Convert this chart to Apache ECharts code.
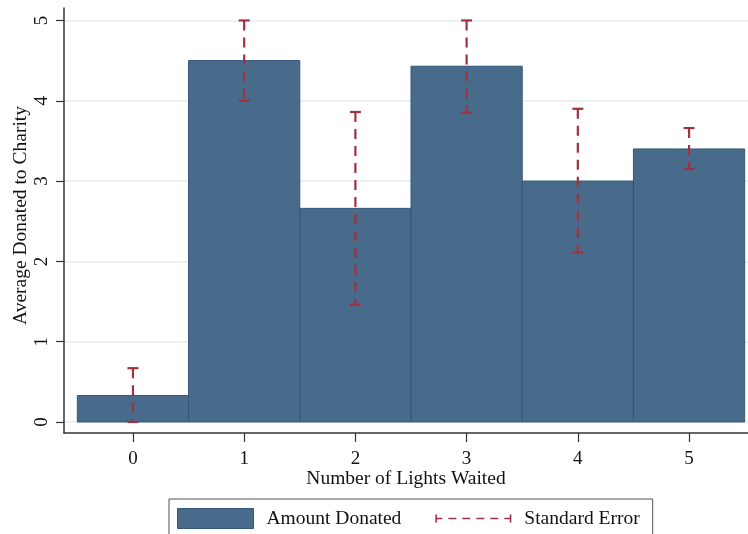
<!DOCTYPE html>
<html>
<head>
<meta charset="utf-8">
<script src="https://cdn.jsdelivr.net/npm/echarts@6/dist/echarts.min.js"></script>
<style>html,body{margin:0;padding:0;background:#fff}#c{width:748px;height:534px}</style>
</head>
<body>
<div id="c"></div>
<script>
const categories = [0, 1, 2, 3, 4, 5];
const amountDonated = [0.33, 4.5, 2.66, 4.43, 3.0, 3.40];
const seLower = [0, 4.0, 1.46, 3.85, 2.11, 3.15];
const seUpper = [0.67, 5.0, 3.86, 5.0, 3.90, 3.66];
const yTicks = [0, 1, 2, 3, 4, 5];

const FONT = "'Liberation Serif', 'Times New Roman', serif";
const BAR_FILL = '#486a8b';
const BAR_EDGE = '#34577c';
const ERR = '#a0323f';

const barData = categories.map((c, i) => [c, amountDonated[i]]);
const errData = categories.map((c, i) => [c, seLower[i], seUpper[i]]);

const errIcon = 'path://M0,0h0.01v0.01h-0.01z M75.99,19.99h0.01v0.01h-0.01z ' +
  'M0,6h1.6v8h-1.6z M74.4,6h1.6v8h-1.6z ' +
  'M0,9.2h7v1.6h-7z M13,9.2h8v1.6h-8z M27,9.2h8v1.6h-8z M41,9.2h8v1.6h-8z M55,9.2h8v1.6h-8z M69,9.2h7v1.6h-7z';

const chart = echarts.init(document.getElementById('c'), null, {renderer: 'canvas'});
chart.setOption({
  animation: false,
  backgroundColor: '#fff',
  grid: {left: 64, right: 0, top: 8, bottom: 101, containLabel: false, outerBoundsMode: 'none'},
  xAxis: {
    type: 'value', min: -0.62, max: 5.53,
    name: 'Number of Lights Waited', nameLocation: 'middle', nameGap: 36, nameMoveOverlap: false,
    nameTextStyle: {fontFamily: FONT, fontSize: 19.5, color: '#111'},
    axisLine: {show: true, onZero: false, lineStyle: {color: '#333', width: 1.5}},
    axisTick: {show: true, length: 9, customValues: categories, lineStyle: {color: '#333', width: 1.2}},
    axisLabel: {customValues: categories, margin: 17, fontFamily: FONT, fontSize: 19, color: '#111'},
    splitLine: {show: false}
  },
  yAxis: {
    type: 'value', min: -0.137, max: 5.155,
    name: 'Average Donated to Charity', nameLocation: 'middle', nameGap: 33, nameRotate: 90, nameMoveOverlap: false,
    nameTextStyle: {fontFamily: FONT, fontSize: 19.5, color: '#111', padding: [0, 0, 0, 10]},
    axisLine: {show: true, onZero: false, lineStyle: {color: '#333', width: 1.5}},
    axisTick: {show: true, length: 8, customValues: yTicks, lineStyle: {color: '#333', width: 1.2}},
    axisLabel: {customValues: yTicks, rotate: 90, margin: 12, fontFamily: FONT, fontSize: 19, color: '#111'},
    splitLine: {show: true, lineStyle: {color: '#e6eef0', width: 1.5}}
  },
  legend: {
    left: 169, top: 499,
    padding: [9, 13, 9, 8],
    itemGap: 34,
    itemWidth: 76, itemHeight: 20,
    borderColor: '#555', borderWidth: 1,
    textStyle: {fontFamily: FONT, fontSize: 19.5, color: '#111', padding: [0, 0, 0, 8]},
    data: [
      {name: 'Amount Donated', icon: 'rect', itemStyle: {color: BAR_FILL, borderColor: BAR_EDGE, borderWidth: 1}},
      {name: 'Standard Error', icon: errIcon, itemStyle: {color: ERR, borderWidth: 0}}
    ]
  },
  series: [
    {
      name: 'Amount Donated', type: 'custom',
      itemStyle: {color: BAR_FILL},
      data: barData,
      renderItem: function (params, api) {
        const x = api.value(0), y = api.value(1);
        const p1 = api.coord([x - 0.5, y]);
        const p2 = api.coord([x + 0.5, 0]);
        return {
          type: 'rect',
          shape: {x: p1[0], y: p1[1], width: p2[0] - p1[0], height: p2[1] - p1[1]},
          style: {fill: BAR_FILL, stroke: BAR_EDGE, lineWidth: 1}
        };
      }
    },
    {
      name: 'Standard Error', type: 'custom',
      itemStyle: {color: ERR},
      data: errData,
      z: 3,
      renderItem: function (params, api) {
        const x = api.value(0);
        const lo = api.coord([x, api.value(1)]);
        const hi = api.coord([x, api.value(2)]);
        const cw = 5.5;
        const st = {stroke: ERR, lineWidth: 2.2, fill: null};
        return {
          type: 'group',
          children: [
            {type: 'line', shape: {x1: hi[0], y1: hi[1], x2: lo[0], y2: lo[1]}, style: Object.assign({lineDash: [10, 7]}, st)},
            {type: 'line', shape: {x1: hi[0] - cw, y1: hi[1], x2: hi[0] + cw, y2: hi[1]}, style: st},
            {type: 'line', shape: {x1: lo[0] - cw, y1: lo[1], x2: lo[0] + cw, y2: lo[1]}, style: st}
          ]
        };
      }
    }
  ]
});
</script>
</body>
</html>
